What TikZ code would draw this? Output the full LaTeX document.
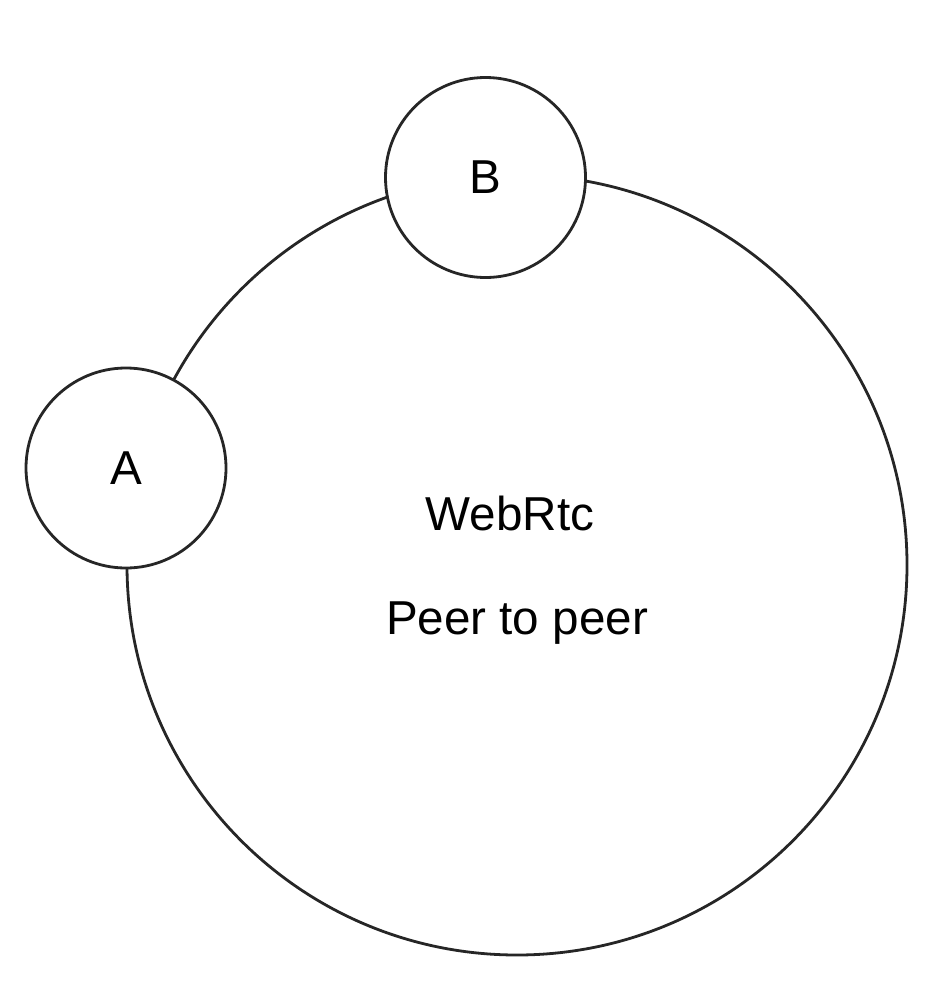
\documentclass[tikz,border=0pt]{standalone}
\usepackage{fontspec}
\setmainfont{Liberation Sans}
\begin{document}
\begin{tikzpicture}[x=1pt,y=-1pt,
  outline/.style={draw=black!85,line width=2.8pt},
  peer/.style={outline,circle,fill=white,minimum size=200pt,inner sep=0pt,
    font=\fontsize{47.6}{54}\selectfont},
  caption/.style={font=\fontsize{47.6}{54}\selectfont,inner sep=0pt}]
\useasboundingbox (0,0) rectangle (936,990);
% shared session ring
\node[outline,circle,minimum size=780pt,inner sep=0pt] (ring) at (517,565) {};
% peers sitting on the ring
\node[peer] (B) at (485.5,177.5) {B};
\node[peer] (A) at (126,468) {A};
% labels
\node[caption] (webrtc) at (510,513) {WebRtc};
\node[caption] (p2p) at (517,623) {Peer to peer};
\end{tikzpicture}
\end{document}
